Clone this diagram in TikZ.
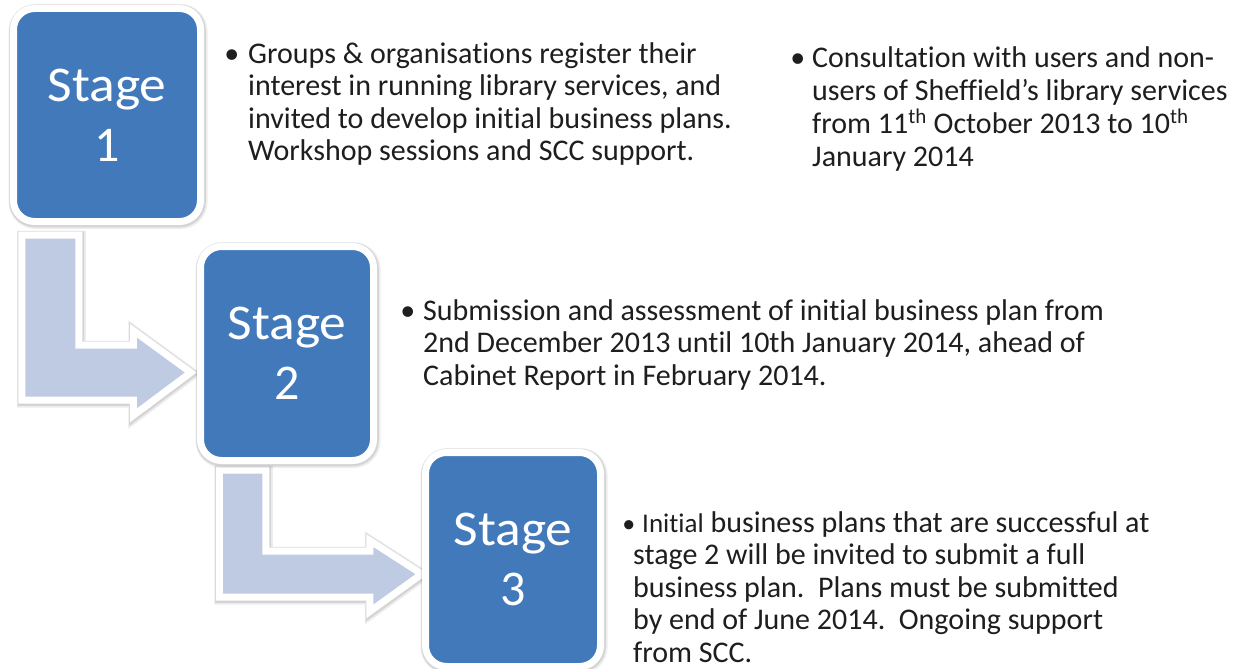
\documentclass[tikz,border=0pt]{standalone}
\usepackage{fontspec}
\setmainfont{Carlito}[Ligatures=NoCommon]
\usetikzlibrary{calc}
\definecolor{stageblue}{RGB}{65,121,187}
\definecolor{arrowfill}{RGB}{191,203,227}
\definecolor{bodytext}{RGB}{30,30,30}
\begin{document}
\begin{tikzpicture}[x=1pt,y=-1pt,
  halo/.style={preaction={draw=black,draw opacity=.07,line width=12pt,fill=none,transform canvas={xshift=1pt,yshift=-1.5pt}},
               preaction={draw=black,draw opacity=.10,line width=9.5pt,fill=none,transform canvas={xshift=.5pt,yshift=-1pt}}},
  stagebox/.style={halo,fill=stageblue,draw=white,line width=7pt,rounded corners=21pt,
    text=white,font=\fontsize{50}{60}\selectfont,align=center,inner sep=0pt},
  blockarrow/.style={halo,fill=arrowfill,draw=white,line width=7pt,line join=miter},
  bodytxt/.style={anchor=base west,align=left,inner sep=0pt,text=bodytext,
    font=\fontsize{30}{32.5}\selectfont}]
\useasboundingbox[fill=white] (0,0) rectangle (1242,669);

\path (107,115) coordinate (c1) (287,353.5) coordinate (c2) (513,559.5) coordinate (c3);
\path (c1) node[minimum width=187pt,minimum height=213pt,inner sep=0pt] (p1) {};
\path (c2) node[minimum width=173pt,minimum height=214pt,inner sep=0pt] (p2) {};
\path (c3) node[minimum width=175pt,minimum height=214pt,inner sep=0pt] (p3) {};

% arrow from stage 1 to stage 2
\coordinate (a1s) at ($(p1.south west)+(8.5,13.5)$);
\coordinate (a1t) at ($(p2.west)+(-9.5,19)$);
\draw[blockarrow] (a1s) -- ++(57,0) |- ($(a1t)+(-57.5,-27.5)$)
  -- ($(a1t)+(-57.5,-42)$) -- (a1t) -- ($(a1t)+(-57.5,43)$)
  -- ($(a1t)+(-57.5,27.5)$) -| (a1s) -- cycle;

% arrow from stage 2 to stage 3
\coordinate (a2s) at ($(p2.south west)+(19,9.5)$);
\coordinate (a2t) at ($(p3.west)+(-3.5,14.5)$);
\draw[blockarrow] (a2s) -- ++(46.5,0) |- ($(a2t)+(-52,-23)$)
  -- ($(a2t)+(-52,-33.5)$) -- (a2t) -- ($(a2t)+(-52,37.5)$)
  -- ($(a2t)+(-52,23)$) -| (a2s) -- cycle;

\newcommand{\stg}[1]{\scalebox{1.07}[1]{Stage}\\#1}
\node[stagebox,minimum width=187pt,minimum height=213pt] (s1) at (c1) {\stg{1}};
\node[stagebox,minimum width=173pt,minimum height=214pt] (s2) at (c2) {\stg{2}};
\node[stagebox,minimum width=175pt,minimum height=214pt] (s3) at (c3) {\stg{3}};

% multi-line nodes: base anchor = baseline of the last line
\node[bodytxt] (t1) at (248,160.5) {\llap{•\hspace{9pt}}Groups \& organisations register their\\
interest in running library services, and\\
invited to develop initial business plans.\\
Workshop sessions and SCC support.};

\node[bodytxt,font=\fontsize{30}{33}\selectfont] (t4) at (812,166) {\llap{•\hspace{7pt}}Consultation with users and non-\\
users of Sheffield’s library services\\
from 11\textsuperscript{th} October 2013 to 10\textsuperscript{th}\\
January 2014};

\node[bodytxt] (t2) at (423,385) {\llap{•\hspace{8pt}}Submission and assessment of initial business plan from\\
2nd December 2013 until 10th January 2014, ahead of\\
Cabinet Report in February 2014.};

\node[bodytxt] (t3) at (633,662) {\hspace*{9pt}\llap{{\fontsize{26}{30}\selectfont•}\hspace{7pt}}{\fontsize{27}{30}\selectfont Initial} business plans that are successful at\\
stage 2 will be invited to submit a full\\
business plan.\ \ Plans must be submitted\\
by end of June 2014.\ \ Ongoing support\\
from SCC.};
\end{tikzpicture}
\end{document}
